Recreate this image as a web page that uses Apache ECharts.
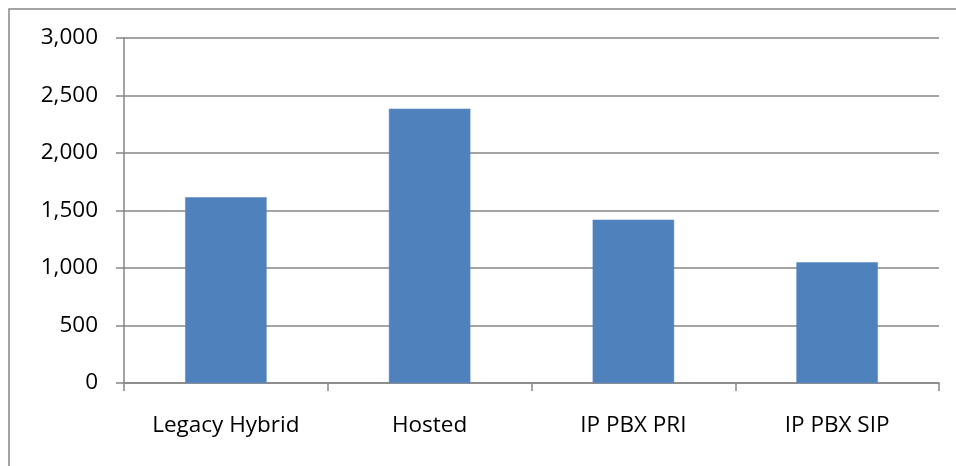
<!DOCTYPE html>
<html>
<head>
<meta charset="utf-8">
<script src="https://cdn.jsdelivr.net/npm/echarts@6/dist/echarts.min.js"></script>
<style>
  html, body { margin: 0; padding: 0; background: #ffffff; }
  #chart { width: 956px; height: 466px; }
</style>
</head>
<body>
<div id="chart"></div>
<script>
// Categories and values for the column chart
const categories = ['Legacy Hybrid', 'Hosted', 'IP PBX PRI', 'IP PBX SIP'];
const values = [1615, 2385, 1420, 1050];
const yTicks = { min: 0, max: 3000, interval: 500 };

const axisGray = '#868686';
const fontFamily = '"Open Sans", Lato, sans-serif';

const chart = echarts.init(document.getElementById('chart'), null, { renderer: 'canvas' });

chart.setOption({
  animation: false,
  backgroundColor: '#ffffff',
  graphic: [{
    type: 'rect',
    silent: true,
    shape: { x: 9, y: 9, width: 1200, height: 1200 },
    style: { fill: 'none', stroke: axisGray, lineWidth: 1.5 }
  }],
  grid: { left: 124, right: 17, top: 38, bottom: 83, containLabel: false },
  xAxis: {
    type: 'category',
    data: categories,
    boundaryGap: true,
    axisLine: { lineStyle: { color: axisGray, width: 1.5 } },
    axisTick: { show: true, length: 8, alignWithLabel: false, lineStyle: { color: axisGray, width: 1.5 } },
    axisLabel: { color: '#000000', fontSize: 22.5, fontFamily: fontFamily, margin: 31 }
  },
  yAxis: {
    type: 'value',
    min: yTicks.min,
    max: yTicks.max,
    interval: yTicks.interval,
    axisLine: { show: true, lineStyle: { color: axisGray, width: 1.5 } },
    axisTick: { show: true, length: 8, lineStyle: { color: axisGray, width: 1.5 } },
    axisLabel: {
      color: '#000000', fontSize: 22.5, fontFamily: fontFamily, margin: 26,
      formatter: v => v.toLocaleString('en-US')
    },
    splitLine: { show: true, lineStyle: { color: axisGray, width: 1.5 } }
  },
  series: [{
    type: 'bar',
    data: values,
    barCategoryGap: '60%',
    itemStyle: { color: '#4F81BD', borderColor: '#5B8BC6', borderWidth: 0.5 }
  }]
});
</script>
</body>
</html>
